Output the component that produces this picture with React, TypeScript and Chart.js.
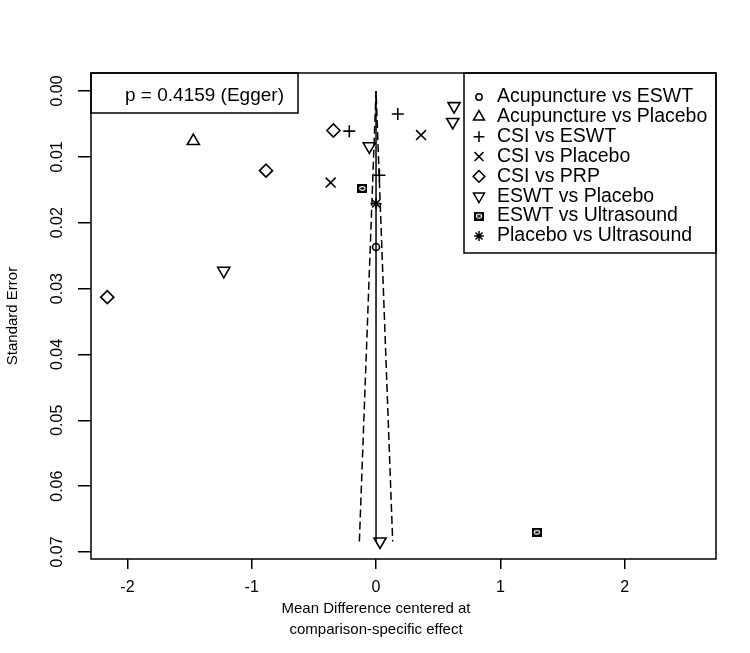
import React, { useEffect, useRef } from 'react';
import { Chart, registerables } from 'chart.js';
import { drawPoint } from 'chart.js/helpers';

Chart.register(...registerables);

// ---------- data ----------
const seriesNames = [
  'Acupuncture vs ESWT',
  'Acupuncture vs Placebo',
  'CSI vs ESWT',
  'CSI vs Placebo',
  'CSI vs PRP',
  'ESWT vs Placebo',
  'ESWT vs Ultrasound',
  'Placebo vs Ultrasound',
];

const acuEswtMD = [0.0];
const acuEswtSE = [0.0237];
const acuPlaceboMD = [-1.47];
const acuPlaceboSE = [0.0076];
const csiEswtMD = [-0.215, 0.175, 0.027];
const csiEswtSE = [0.0061, 0.0035, 0.0128];
const csiPlaceboMD = [0.362, -0.365];
const csiPlaceboSE = [0.0067, 0.0139];
const csiPrpMD = [-0.343, -0.885, -2.162];
const csiPrpSE = [0.006, 0.0121, 0.0313];
const eswtPlaceboMD = [0.628, 0.617, -0.054, -1.225, 0.032];
const eswtPlaceboSE = [0.0023, 0.0047, 0.0084, 0.0273, 0.0684];
const eswtUsMD = [-0.11, 1.293];
const eswtUsSE = [0.0148, 0.067];
const placeboUsMD = [0.0];
const placeboUsSE = [0.0171];

const seriesMD = [acuEswtMD, acuPlaceboMD, csiEswtMD, csiPlaceboMD, csiPrpMD, eswtPlaceboMD, eswtUsMD, placeboUsMD];
const seriesSE = [acuEswtSE, acuPlaceboSE, csiEswtSE, csiPlaceboSE, csiPrpSE, eswtPlaceboSE, eswtUsSE, placeboUsSE];

const funnelCenter = 0;
const funnelMaxSE = 0.0684;
const funnelZ = 1.96;

const xTicks = [-2, -1, 0, 1, 2];
const yTicks = [0, 0.01, 0.02, 0.03, 0.04, 0.05, 0.06, 0.07];
const xMin = -2.293;
const xMax = 2.735;
const yMin = -0.00273;
const yMax = 0.07106;

const eggerLabel = 'p = 0.4159 (Egger)';
const xTitleLines = ['Mean Difference centered at', 'comparison-specific effect'];
const yTitle = 'Standard Error';

// ---------- styles ----------
const FONT = '"Liberation Sans", Arial, Helvetica, sans-serif';

function makeSquareSymbol(): HTMLCanvasElement {
  const c = document.createElement('canvas');
  c.width = 10;
  c.height = 9;
  const g = c.getContext('2d')!;
  g.fillStyle = '#000';
  g.fillRect(0, 0, 10, 9);
  g.strokeStyle = '#fff';
  g.lineWidth = 1.2;
  g.beginPath();
  g.ellipse(5, 4.5, 2.6, 1.8, 0, 0, Math.PI * 2);
  g.stroke();
  return c;
}

type Sty = { pointStyle: any; radius: number; rotation: number };

function makeStyles(): Sty[] {
  const sq = makeSquareSymbol();
  return [
    { pointStyle: 'circle', radius: 3.5, rotation: 0 },
    { pointStyle: 'triangle', radius: 7, rotation: 0 },
    { pointStyle: 'cross', radius: 6, rotation: 0 },
    { pointStyle: 'crossRot', radius: 7, rotation: 0 },
    { pointStyle: 'rectRot', radius: 6.5, rotation: 0 },
    { pointStyle: 'triangle', radius: 7, rotation: 180 },
    { pointStyle: sq, radius: 5, rotation: 0 },
    { pointStyle: 'star', radius: 5.5, rotation: 0 },
  ];
}

export default function App() {
  const ref = useRef<HTMLCanvasElement | null>(null);

  useEffect(() => {
    if (!ref.current) return;
    const styles = makeStyles();

    const pointSets = seriesNames.map((name, i) => ({
      type: 'scatter' as const,
      label: name,
      data: seriesMD[i].map((m, k) => ({ x: m, y: seriesSE[i][k] })),
      pointStyle: styles[i].pointStyle,
      pointRadius: styles[i].radius,
      pointRotation: styles[i].rotation,
      borderColor: '#000',
      backgroundColor: 'rgba(0,0,0,0)',
      borderWidth: 1.6,
      showLine: false,
    }));

    const half = funnelZ * funnelMaxSE;
    const lineSets = [
      {
        type: 'scatter' as const,
        label: 'center',
        data: [
          { x: funnelCenter, y: 0 },
          { x: funnelCenter, y: funnelMaxSE },
        ],
        showLine: true,
        pointRadius: 0,
        borderColor: '#000',
        borderWidth: 1.5,
        backgroundColor: 'rgba(0,0,0,0)',
      },
      {
        type: 'scatter' as const,
        label: 'limits',
        data: [
          { x: funnelCenter - half, y: funnelMaxSE },
          { x: funnelCenter, y: 0 },
          { x: funnelCenter + half, y: funnelMaxSE },
        ],
        showLine: true,
        pointRadius: 0,
        borderColor: '#000',
        borderWidth: 1.5,
        borderDash: [8, 4],
        backgroundColor: 'rgba(0,0,0,0)',
      },
    ];

    const framePlugin = {
      id: 'framePlugin',
      afterDraw(chart: any) {
        const { ctx, chartArea: a, scales } = chart;
        ctx.save();
        ctx.strokeStyle = '#000';
        ctx.fillStyle = '#000';
        ctx.lineWidth = 1.5;
        ctx.setLineDash([]);
        ctx.strokeRect(a.left, a.top, a.right - a.left, a.bottom - a.top);

        // Egger box
        ctx.strokeRect(a.left, a.top, 207, 40);
        ctx.font = '19px ' + FONT;
        ctx.textAlign = 'left';
        ctx.textBaseline = 'middle';
        ctx.fillText(eggerLabel, a.left + 34, a.top + 23);

        // legend
        const lx = 464;
        ctx.strokeRect(lx, a.top, a.right - lx, 180);
        seriesNames.forEach((name, i) => {
          const y = a.top + 24 + i * 19.85;
          ctx.fillStyle = 'rgba(0,0,0,0)';
          ctx.strokeStyle = '#000';
          ctx.lineWidth = 1.5;
          drawPoint(ctx, { pointStyle: styles[i].pointStyle, radius: styles[i].radius * 0.9, rotation: styles[i].rotation, borderWidth: 1.5 } as any, lx + 15, y);
          ctx.fillStyle = '#000';
          ctx.font = '19.5px ' + FONT;
          ctx.textAlign = 'left';
          ctx.textBaseline = 'middle';
          ctx.fillText(name, lx + 33, y);
        });

        // x title
        const cx = scales.x.getPixelForValue(0);
        ctx.font = '15px ' + FONT;
        ctx.textAlign = 'center';
        ctx.textBaseline = 'middle';
        ctx.fillStyle = '#000';
        xTitleLines.forEach((t, i) => ctx.fillText(t, cx, a.bottom + 50 + i * 21));
        ctx.restore();
      },
    };

    const chart = new Chart(ref.current, {
      type: 'scatter',
      data: { datasets: [...pointSets, ...lineSets] as any },
      options: {
        responsive: false,
        animation: false,
        events: [],
        layout: { padding: { left: 0, top: 73, right: 34, bottom: 0 } },
        plugins: { legend: { display: false }, tooltip: { enabled: false } },
        scales: {
          x: {
            type: 'linear',
            min: xMin,
            max: xMax,
            bounds: 'data',
            border: { display: false },
            grid: { drawOnChartArea: false, drawTicks: true, tickLength: 10, color: '#000', lineWidth: 1.5 },
            ticks: {
              color: '#000',
              font: { family: FONT, size: 16 },
              padding: 9,
              autoSkip: false,
              maxRotation: 0,
              minRotation: 0,
              callback: (v: any) => String(v),
            },
            afterBuildTicks: (s: any) => {
              s.ticks = xTicks.map((v) => ({ value: v }));
            },
            afterFit: (s: any) => {
              s.height = 94;
            },
          },
          y: {
            type: 'linear',
            reverse: true,
            min: yMin,
            max: yMax,
            bounds: 'data',
            border: { display: false },
            grid: { drawOnChartArea: false, drawTicks: true, tickLength: 13, color: '#000', lineWidth: 1.5 },
            ticks: {
              color: '#000',
              font: { family: FONT, size: 16 },
              padding: 5,
              autoSkip: false,
              minRotation: 90,
              maxRotation: 90,
              crossAlign: 'center',
              callback: (v: any) => Number(v).toFixed(2),
            },
            title: {
              display: true,
              text: yTitle,
              color: '#000',
              font: { family: FONT, size: 15 },
              padding: { top: 4, bottom: 0 },
            },
            afterBuildTicks: (s: any) => {
              s.ticks = yTicks.map((v) => ({ value: v }));
            },
            afterFit: (s: any) => {
              s.width = 91;
            },
          },
        },
      } as any,
      plugins: [framePlugin],
    });

    return () => chart.destroy();
  }, []);

  return (
    <div style={{ position: 'absolute', left: 0, top: 0, width: 750, height: 653, background: '#fff' }}>
      <canvas ref={ref} width={750} height={653} style={{ width: 750, height: 653, display: 'block' }} />
    </div>
  );
}
